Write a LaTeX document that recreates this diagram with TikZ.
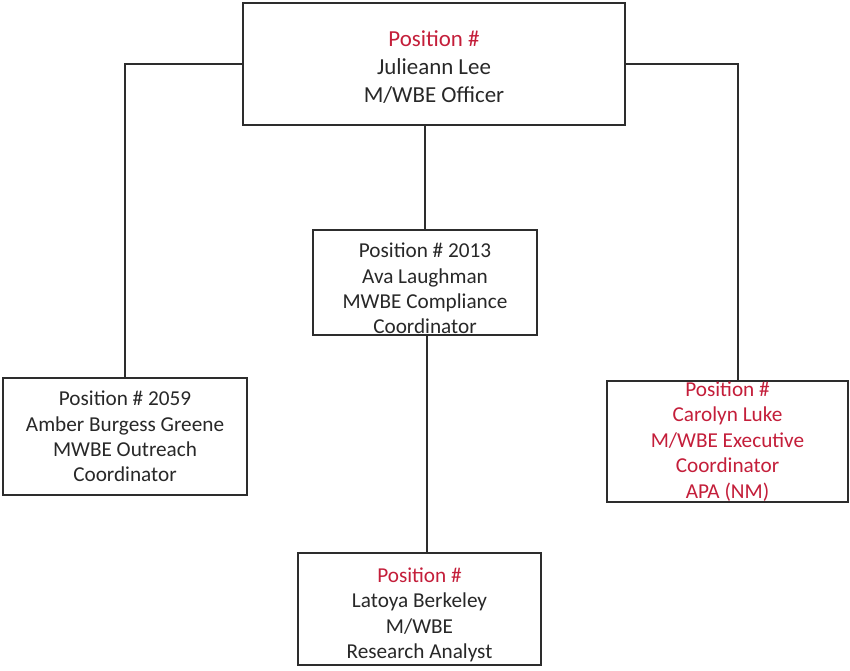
\documentclass[tikz,border=0pt]{standalone}
\usepackage{fontspec}
\setmainfont{Carlito}
\definecolor{ink}{RGB}{40,40,40}
\definecolor{posred}{RGB}{196,30,58}
\definecolor{rule}{RGB}{45,45,45}
\begin{document}
\begin{tikzpicture}[x=1bp,y=-1bp,
  orgbox/.style={draw=rule, line width=1.4bp, fill=white, inner sep=0pt},
  orgtext/.style={align=center, inner sep=0pt, text=ink,
    font=\fontsize{21.3}{25.5}\selectfont},
  link/.style={draw=rule, line width=1.3bp}]
\useasboundingbox (0,0) rectangle (850,671);
\fill[white] (0,0) rectangle (850,671);

% boxes
\node[orgbox, minimum width=382bp, minimum height=122bp] (top) at (434,64) {};
\node[orgbox, minimum width=224bp, minimum height=105bp] (mid) at (425,282.5) {};
\node[orgbox, minimum width=244bp, minimum height=117bp] (left) at (125,436.5) {};
\node[orgbox, minimum width=241bp, minimum height=121bp] (right) at (727.5,441.5) {};
\node[orgbox, minimum width=243bp, minimum height=112bp] (bot) at (419.5,609) {};

% box texts
\node[orgtext, font=\fontsize{23}{28}\selectfont, yshift=-3bp] (toptext) at (top.center)
  {\textcolor{posred}{Position \#}\\Julieann Lee\\M/WBE Officer};
\node[orgtext, yshift=-6bp] (midtext) at (mid.center)
  {Position \# 2013\\Ava Laughman\\MWBE Compliance\\Coordinator};
\node[orgtext] (lefttext) at (left.center)
  {Position \# 2059\\Amber Burgess Greene\\MWBE Outreach\\Coordinator};
\node[orgtext, text=posred] (righttext) at (right.center)
  {Position \#\\Carolyn Luke\\M/WBE Executive\\Coordinator\\APA (NM)};
\node[orgtext, yshift=-6bp] (bottext) at (bot.center)
  {\textcolor{posred}{Position \#}\\Latoya Berkeley\\M/WBE\\Research Analyst};

% connectors
\draw[link] (top.west) -| (left.north);
\draw[link] (top.east) -| ([xshift=10.5bp]right.north);
\draw[link] (mid.north) -- (mid.north |- top.south);
\draw[link] ([xshift=7.5bp]bot.north) -- ([xshift=7.5bp]bot.north |- mid.south);
\end{tikzpicture}
\end{document}
